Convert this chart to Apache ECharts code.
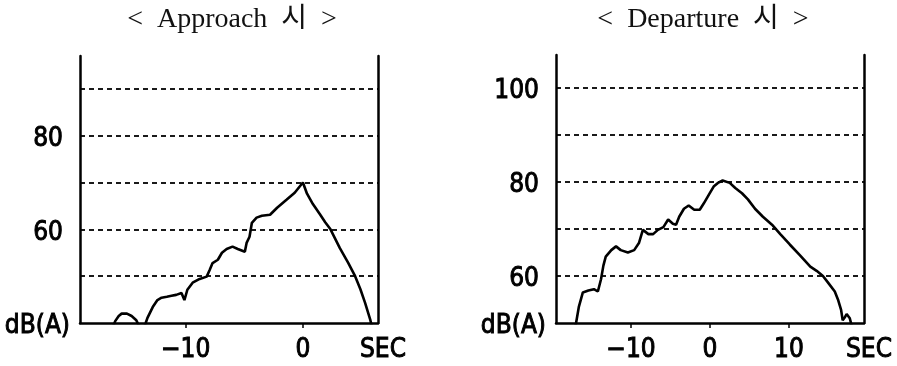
<!DOCTYPE html>
<html>
<head>
<meta charset="utf-8">
<script src="https://cdn.jsdelivr.net/npm/echarts@6.0.0/dist/echarts.min.js"></script>
<style>
html,body{margin:0;padding:0;background:#fff;}
#chart{width:897px;height:366px;}
</style>
</head>
<body>
<div id="chart"></div>
<script>
// ---- Data ----
const approachTitle = '<  Approach  시  >';
const departureTitle = '<  Departure  시  >';

const approachTime  = [-16.3,-16.0,-15.7,-15.45,-15.0,-14.6,-14.2,-14.0,-13.6,-13.4,-13.25,-12.8,-12.4,-12.05,-11.6,-11.2,-10.8,-10.35,-10.1,-9.85,-9.4,-8.8,-8.2,-7.95,-7.7,-7.25,-6.9,-6.5,-6.0,-5.55,-4.95,-4.8,-4.55,-4.35,-3.95,-3.5,-2.8,-2.2,-1.4,-0.7,0,0.35,0.85,1.45,1.9,2.35,3.15,3.85,4.45,4.9,5.3,5.75,5.95];
const approachLevel = [38.5,40.4,41.5,42.0,42.0,41.5,40.6,39.5,38.8,40.0,41.1,43.4,44.9,45.4,45.6,45.8,46.0,46.4,44.9,47.1,48.6,49.4,49.9,51.3,52.8,53.5,55.0,55.8,56.3,55.8,55.2,57.1,58.4,61.4,62.5,62.9,63.1,64.6,66.3,67.8,70.0,67.6,65.4,63.2,61.5,60.0,56.0,52.9,50.0,47.2,44.3,40.6,38.5];

const departureTime  = [-17.3,-16.96,-16.6,-16.1,-15.4,-14.7,-14.2,-13.8,-13.5,-13.2,-12.5,-11.9,-11.3,-10.4,-9.6,-9.0,-8.5,-7.8,-7.2,-6.6,-5.9,-5.3,-4.7,-4.3,-3.9,-3.3,-2.7,-2.0,-1.3,-0.8,-0.1,0.5,1.0,1.6,2.5,3.2,4.05,4.8,5.7,6.7,7.85,8.9,10.1,11.4,12.7,13.5,14.3,14.9,15.8,16.2,16.6,16.8,17.1,17.3,17.7,18.0];
const departureLevel = [48.0,50.0,53.5,56.5,56.9,57.2,56.7,59.3,62.2,64.1,65.5,66.3,65.5,65.0,65.5,67.0,69.8,68.9,68.9,69.8,70.4,72.0,71.1,70.9,72.6,74.3,75.0,74.1,74.1,75.4,77.4,79.1,79.8,80.3,79.8,78.7,77.6,76.3,74.3,72.6,70.9,68.9,66.7,64.4,62.0,61.1,60.0,58.7,56.7,55.0,52.8,50.6,51.3,51.9,51.0,49.0];

const approachXTicks = [-10, 0];
const approachXLabels = ['\u221210', '0'];
const departureXTicks = [-10, 0, 10];
const departureXLabels = ['\u221210', '0', '10'];
const approachYTicks = [40, 60, 80];
const approachYLabels = ['dB(A)', '60', '80'];
const departureYTicks = [50, 60, 80, 100];
const departureYLabels = ['dB(A)', '60', '80', '100'];
const xUnit = 'SEC';

// ---- Chart ----
const labelFont = "'DejaVu Sans Condensed','DejaVu Sans',sans-serif";
const labelSize = 26;
const ink = '#000';
const heavy = { textBorderColor: '#000', textBorderWidth: 0.9 };

function pairs(xs, ys) { return xs.map((x, i) => [x, ys[i]]); }
function lookup(ticks, labels) { return v => { const i = ticks.indexOf(v); return i < 0 ? '' : labels[i]; }; }

function xAxisCfg(grid, min, max, ticks, labels) {
  const fmt = lookup(ticks, labels);
  return {
    type: 'value', gridIndex: grid, min: min, max: max,
    axisLine: { onZero: false, lineStyle: { color: ink, width: 2.5 } },
    axisTick: { show: true, customValues: ticks, length: 5, lineStyle: { color: ink, width: 1.5 } },
    axisLabel: Object.assign({ customValues: ticks, formatter: fmt, margin: 14, fontSize: labelSize, fontFamily: labelFont, color: ink }, heavy),
    splitLine: { show: false },
    name: xUnit, nameLocation: 'end', nameGap: 5,
    nameTextStyle: Object.assign({ fontSize: labelSize, fontFamily: labelFont, color: ink, align: 'center', verticalAlign: 'top', padding: [14, 0, 0, 0] }, heavy)
  };
}
function yAxisCfg(grid, min, max, ticks, labels) {
  const fmt = lookup(ticks, labels);
  return {
    type: 'value', gridIndex: grid, min: min, max: max, interval: 10, position: 'left',
    axisLine: { show: true, onZero: false, lineStyle: { color: ink, width: 2.5 } },
    axisTick: { show: false },
    axisLabel: Object.assign({
      customValues: ticks, margin: 10, fontSize: labelSize, fontFamily: labelFont, color: ink,
      formatter: v => { const t = fmt(v); return t === 'dB(A)' ? '{u|' + t + '}' : '{n|' + t + '}'; },
      rich: {
        u: Object.assign({ fontSize: labelSize, fontFamily: labelFont, color: ink, padding: [6, 0, 0, 0] }, heavy),
        n: Object.assign({ fontSize: labelSize, fontFamily: labelFont, color: ink, padding: [7, 7, 0, 0] }, heavy)
      }
    }, heavy),
    splitLine: { show: true, showMinLine: false, showMaxLine: false, lineStyle: { color: '#1a1a1a', width: 1.8, type: [5, 4] } }
  };
}
function frameAxis(grid, min, max) {
  return {
    type: 'value', gridIndex: grid, min: min, max: max, position: 'right',
    axisLine: { show: true, onZero: false, lineStyle: { color: ink, width: 2.5 } },
    axisTick: { show: false }, axisLabel: { show: false }, splitLine: { show: false }
  };
}

const chart = echarts.init(document.getElementById('chart'), null, { renderer: 'canvas' });
chart.setOption({
  animation: false,
  backgroundColor: '#fff',
  graphic: [
    { type: 'text', x: 232, y: 20, style: { text: approachTitle, align: 'center', verticalAlign: 'middle', fill: '#111', font: "28px 'Liberation Serif','Noto Sans CJK KR',serif" } },
    { type: 'text', x: 703, y: 20, style: { text: departureTitle, align: 'center', verticalAlign: 'middle', fill: '#111', font: "28px 'Liberation Serif','Noto Sans CJK KR',serif" } }
  ],
  grid: [
    { left: 80, right: 519, top: 56, bottom: 43, containLabel: false },
    { left: 556, right: 33, top: 55, bottom: 43, containLabel: false }
  ],
  xAxis: [
    xAxisCfg(0, -19, 6.4, approachXTicks, approachXLabels),
    xAxisCfg(1, -19.5, 19.5, departureXTicks, departureXLabels)
  ],
  yAxis: [
    yAxisCfg(0, 40, 97, approachYTicks, approachYLabels),
    frameAxis(0, 40, 97),
    yAxisCfg(1, 50, 107, departureYTicks, departureYLabels),
    frameAxis(1, 50, 107)
  ],
  series: [
    { type: 'line', xAxisIndex: 0, yAxisIndex: 0, data: pairs(approachTime, approachLevel), showSymbol: false, clip: true, lineStyle: { color: ink, width: 2.6 } },
    { type: 'line', xAxisIndex: 1, yAxisIndex: 2, data: pairs(departureTime, departureLevel), showSymbol: false, clip: true, lineStyle: { color: ink, width: 2.6 } }
  ]
});
</script>
</body>
</html>
